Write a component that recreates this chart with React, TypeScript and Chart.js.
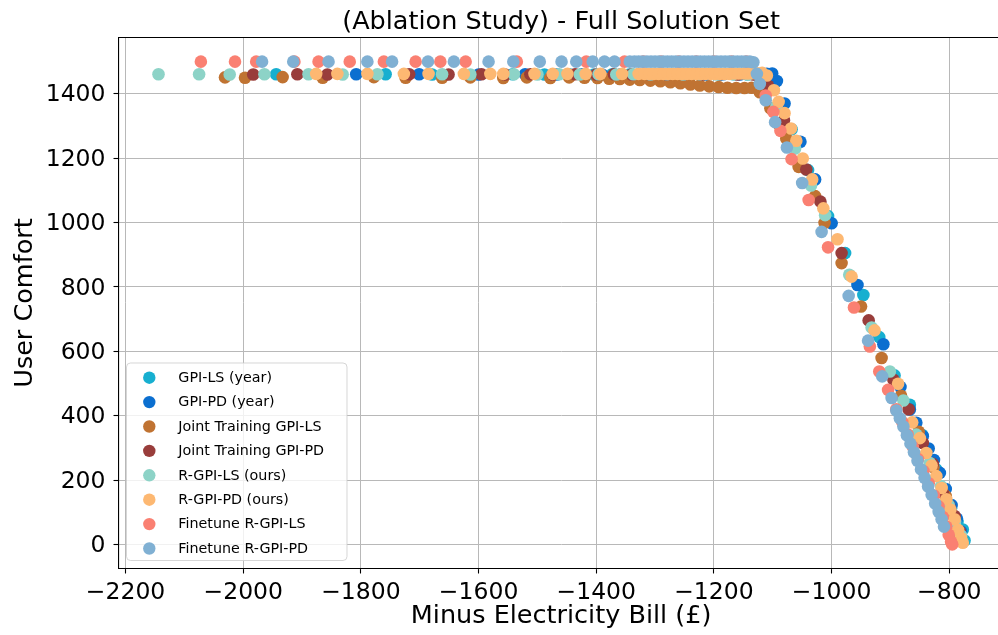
import React, { useEffect, useRef } from 'react';
import { Chart, registerables } from 'chart.js';

Chart.register(...registerables);

type P = [number, number];

const FONT = "'DejaVu Sans', sans-serif";
const chartTitle = '(Ablation Study) - Full Solution Set';
const xLabel = 'Minus Electricity Bill (£)';
const yLabel = 'User Comfort';

const seriesLabels = [
  'GPI-LS (year)',
  'GPI-PD (year)',
  'Joint Training GPI-LS',
  'Joint Training GPI-PD',
  'R-GPI-LS (ours)',
  'R-GPI-PD (ours)',
  'Finetune R-GPI-LS',
  'Finetune R-GPI-PD',
];
const seriesColors = ['#17afd0', '#0b6fd0', '#c07332', '#993d3b', '#8dd3c7', '#fdb872', '#fa8072', '#80b0d3'];

const xTicks = [-2200, -2000, -1800, -1600, -1400, -1200, -1000, -800];
const yTicks = [0, 200, 400, 600, 800, 1000, 1200, 1400];

const gpiLsYear: P[] = [
  [-1944, 1461], [-1758, 1461], [-1679, 1460], [-1542, 1461], [-1488, 1460], [-1446, 1461], [-1404, 1460],
  [-1373, 1461], [-1344, 1460], [-1316, 1461], [-1290, 1460], [-1263, 1461], [-1238, 1460], [-1214, 1461],
  [-1190, 1460], [-1166, 1461], [-1143, 1460], [-1124, 1459],
  [-1101, 1420], [-1068, 1290], [-1040, 1163], [-1006, 1020], [-977, 905], [-946, 775], [-919, 644],
  [-893, 525], [-867, 434], [-846, 340], [-822, 233], [-809, 170], [-797, 112], [-786, 70], [-777, 46], [-774, 12],
];

const gpiPdYear: P[] = [
  [-1808, 1461], [-1701, 1461], [-1600, 1460], [-1521, 1461], [-1467, 1460], [-1425, 1461], [-1390, 1460],
  [-1358, 1461], [-1327, 1460], [-1297, 1461], [-1268, 1460], [-1240, 1461], [-1212, 1460], [-1184, 1461],
  [-1156, 1460], [-1130, 1461], [-1110, 1462], [-1101, 1463],
  [-1093, 1440], [-1080, 1370], [-1053, 1251], [-1028, 1134], [-1000, 998], [-956, 806], [-912, 622],
  [-883, 489], [-867, 419], [-856, 378], [-845, 336], [-835, 298], [-826, 262], [-816, 222], [-806, 172],
  [-796, 122], [-787, 80], [-780, 40],
];

const jointLs: P[] = [
  [-2031, 1451], [-1997, 1450], [-1933, 1452], [-1865, 1450], [-1778, 1452], [-1724, 1450], [-1662, 1450],
  [-1614, 1451], [-1558, 1449], [-1518, 1451], [-1478, 1449], [-1446, 1451], [-1420, 1450], [-1398, 1449],
  [-1378, 1447], [-1360, 1446], [-1343, 1444], [-1326, 1443], [-1308, 1441], [-1291, 1439], [-1274, 1436],
  [-1257, 1433], [-1240, 1429], [-1224, 1426], [-1208, 1423], [-1192, 1421], [-1177, 1419], [-1162, 1418],
  [-1148, 1418], [-1136, 1419],
  [-1122, 1405], [-1104, 1355], [-1090, 1305], [-1077, 1261], [-1056, 1173], [-1028, 1082], [-1012, 999],
  [-983, 874], [-950, 739], [-915, 579], [-882, 462], [-852, 350], [-827, 240], [-806, 150], [-791, 82], [-781, 25],
];

const jointPd: P[] = [
  [-1983, 1460], [-1908, 1461], [-1857, 1460], [-1718, 1461], [-1651, 1460], [-1595, 1461], [-1555, 1460],
  [-1512, 1461], [-1474, 1460], [-1436, 1461], [-1400, 1460], [-1370, 1461], [-1340, 1460], [-1310, 1461],
  [-1280, 1460], [-1250, 1461], [-1220, 1460], [-1190, 1461], [-1160, 1460], [-1133, 1460],
  [-1108, 1425], [-1081, 1318], [-1043, 1165], [-1019, 1065], [-983, 905], [-937, 696], [-895, 512],
  [-869, 420], [-845, 315], [-828, 250], [-811, 160], [-800, 120], [-791, 88], [-782, 40],
];

const rgpiLs: P[] = [
  [-2144, 1461], [-2075, 1461], [-2023, 1460], [-1964, 1461], [-1889, 1461], [-1831, 1460], [-1772, 1461],
  [-1662, 1461], [-1614, 1460], [-1540, 1461], [-1500, 1460], [-1463, 1461], [-1428, 1460], [-1396, 1461],
  [-1366, 1460], [-1337, 1461], [-1308, 1460], [-1280, 1461], [-1252, 1460], [-1224, 1461], [-1196, 1460],
  [-1168, 1461], [-1142, 1460], [-1120, 1455],
  [-1094, 1360], [-1062, 1230], [-1035, 1115], [-1011, 1023], [-970, 838], [-932, 674], [-901, 537],
  [-878, 447], [-856, 341], [-833, 253], [-814, 181], [-801, 122], [-790, 70], [-780, 28],
];

const rgpiPd: P[] = [
  [-1876, 1462], [-1840, 1462], [-1789, 1462], [-1727, 1462], [-1685, 1462], [-1625, 1462], [-1580, 1462],
  [-1558, 1462], [-1505, 1462], [-1474, 1462], [-1449, 1462], [-1418, 1462], [-1393, 1462], [-1356, 1462],
  [-1328, 1462], [-1318, 1462], [-1310, 1462], [-1302, 1462], [-1294, 1462], [-1286, 1462], [-1278, 1462],
  [-1270, 1462], [-1262, 1462], [-1254, 1462], [-1246, 1462], [-1238, 1462], [-1230, 1462], [-1222, 1462],
  [-1214, 1462], [-1206, 1462], [-1198, 1462], [-1190, 1462], [-1182, 1462], [-1174, 1462], [-1166, 1463],
  [-1158, 1463], [-1150, 1463], [-1142, 1463], [-1134, 1464], [-1126, 1464], [-1118, 1465],
  [-1110, 1457], [-1098, 1411], [-1090, 1375], [-1080, 1340], [-1069, 1292], [-1060, 1254], [-1049, 1199],
  [-1033, 1134], [-1014, 1044], [-990, 948], [-966, 832], [-927, 665], [-887, 499], [-863, 379], [-850, 330],
  [-839, 284], [-830, 245], [-822, 212], [-813, 175], [-805, 140], [-798, 108], [-791, 78], [-785, 45],
  [-780, 20], [-777, 5],
];

const finetuneLs: P[] = [
  [-2072, 1500], [-2014, 1500], [-1978, 1500], [-1913, 1500], [-1872, 1500], [-1819, 1500], [-1761, 1500],
  [-1707, 1500], [-1665, 1500], [-1622, 1500], [-1535, 1500], [-1417, 1500], [-1352, 1500], [-1320, 1500],
  [-1290, 1500], [-1260, 1500], [-1230, 1500], [-1200, 1500], [-1170, 1500], [-1145, 1500],
  [-1112, 1395], [-1099, 1344], [-1087, 1285], [-1068, 1197], [-1039, 1070], [-1006, 923], [-962, 736],
  [-935, 615], [-919, 537], [-904, 480], [-890, 420], [-880, 380], [-871, 342], [-862, 303], [-853, 265],
  [-844, 228], [-835, 190], [-826, 152], [-818, 118], [-811, 85], [-805, 55], [-801, 30], [-797, 8], [-795, 0],
];

const finetunePd: P[] = [
  [-1968, 1500], [-1915, 1500], [-1855, 1500], [-1789, 1500], [-1747, 1500], [-1686, 1500], [-1642, 1500],
  [-1583, 1500], [-1541, 1500], [-1496, 1500], [-1459, 1500], [-1434, 1500], [-1406, 1500], [-1386, 1500],
  [-1369, 1500], [-1343, 1500], [-1335, 1500], [-1328, 1500], [-1321, 1500], [-1314, 1500], [-1307, 1500],
  [-1300, 1500], [-1293, 1500], [-1286, 1500], [-1279, 1500], [-1272, 1500], [-1265, 1500], [-1258, 1500],
  [-1251, 1500], [-1244, 1500], [-1237, 1500], [-1230, 1500], [-1223, 1500], [-1216, 1500], [-1209, 1500],
  [-1202, 1500], [-1195, 1500], [-1188, 1500], [-1181, 1500], [-1174, 1500], [-1167, 1500], [-1160, 1500],
  [-1153, 1500], [-1146, 1500], [-1139, 1500], [-1133, 1498],
  [-1127, 1462], [-1122, 1431], [-1112, 1380], [-1096, 1312], [-1076, 1233], [-1050, 1123], [-1017, 971],
  [-971, 772], [-938, 633], [-914, 522], [-898, 455], [-890, 416], [-884, 392], [-878, 366], [-872, 339],
  [-866, 313], [-860, 286], [-854, 260], [-848, 233], [-842, 207], [-836, 180], [-830, 154], [-824, 127],
  [-818, 101], [-813, 78], [-809, 55],
];

const seriesData: P[][] = [gpiLsYear, gpiPdYear, jointLs, jointPd, rgpiLs, rgpiPd, finetuneLs, finetunePd];

const fmt = (v: number | string) => {
  const n = Number(v);
  return n < 0 ? '\u2212' + Math.abs(n) : String(n);
};

const decorPlugin = {
  id: 'decor',
  afterDraw(chart: any) {
    const ctx = chart.ctx as CanvasRenderingContext2D;
    const a = chart.chartArea;
    ctx.save();
    // top spine
    ctx.strokeStyle = '#000';
    ctx.lineWidth = 1.1;
    ctx.beginPath();
    ctx.moveTo(a.left - 0.5, a.top);
    ctx.lineTo(a.right, a.top);
    ctx.stroke();
    // title
    ctx.fillStyle = '#000';
    ctx.font = `25.5px ${FONT}`;
    ctx.textAlign = 'center';
    ctx.textBaseline = 'alphabetic';
    ctx.fillText(chartTitle, (a.left + a.right) / 2, 29.3);
    // legend
    const x0 = 126.5, y0 = 363, w = 220.5, h = 197.5;
    ctx.beginPath();
    if ((ctx as any).roundRect) (ctx as any).roundRect(x0, y0, w, h, 4);
    else ctx.rect(x0, y0, w, h);
    ctx.fillStyle = 'rgba(255,255,255,0.8)';
    ctx.fill();
    ctx.strokeStyle = 'rgba(204,204,204,0.8)';
    ctx.lineWidth = 1;
    ctx.stroke();
    ctx.font = `14.3px ${FONT}`;
    ctx.textAlign = 'left';
    ctx.textBaseline = 'middle';
    seriesLabels.forEach((lab, i) => {
      const cy = 377.7 + i * 24.4;
      ctx.beginPath();
      ctx.arc(149.3, cy, 6.2, 0, Math.PI * 2);
      ctx.fillStyle = seriesColors[i];
      ctx.fill();
      ctx.fillStyle = '#000';
      ctx.fillText(lab, 178.3, cy + 0.5);
    });
    ctx.restore();
  },
};

export default function App() {
  const ref = useRef<HTMLCanvasElement | null>(null);
  useEffect(() => {
    if (!ref.current) return;
    const datasets = seriesData.map((d, i) => ({
      label: seriesLabels[i],
      data: d.map(([x, y]) => ({ x, y })),
      backgroundColor: seriesColors[i],
      borderColor: seriesColors[i],
      borderWidth: 0,
      pointRadius: 6.3,
      pointHoverRadius: 6.3,
      order: -i,
    }));
    const gridCommon = {
      color: '#b8b8b8',
      lineWidth: 1,
      tickColor: '#000',
      tickLength: 5,
      tickWidth: 1.1,
    };
    const chart = new Chart(ref.current, {
      type: 'scatter',
      data: { datasets },
      plugins: [decorPlugin],
      options: {
        animation: false,
        responsive: false,
        devicePixelRatio: 1,
        layout: { padding: { left: 0, right: 2, top: 37.5, bottom: 0 } },
        plugins: { legend: { display: false }, title: { display: false }, tooltip: { enabled: false } },
        scales: {
          x: {
            type: 'linear',
            position: 'bottom',
            min: -2212,
            max: -707.5,
            z: 1,
            afterBuildTicks: (s: any) => { s.ticks = xTicks.map((v) => ({ value: v })); },
            afterFit: (s: any) => { s.height = 66.5; },
            grid: gridCommon,
            border: { display: true, color: '#000', width: 1.1 },
            ticks: { font: { family: FONT, size: 23.5 }, color: '#000', padding: 5, maxRotation: 0, autoSkip: false, callback: fmt },
            title: { display: true, text: xLabel, font: { family: FONT, size: 25.5 }, color: '#000', padding: { top: 0, bottom: 3 } },
          },
          y: {
            type: 'linear',
            position: 'left',
            min: -75,
            max: 1575,
            z: 1,
            afterBuildTicks: (s: any) => { s.ticks = yTicks.map((v) => ({ value: v })); },
            afterFit: (s: any) => { s.width = 118.5; },
            grid: gridCommon,
            border: { display: true, color: '#000', width: 1.1 },
            ticks: { font: { family: FONT, size: 23.5 }, color: '#000', padding: 8, labelOffset: 1.5, autoSkip: false, callback: fmt },
            title: { display: true, text: yLabel, font: { family: FONT, size: 25.5 }, color: '#000', padding: { top: 10, bottom: 0 } },
          },
        },
      } as any,
    });
    return () => chart.destroy();
  }, []);
  return (
    <div style={{ position: 'fixed', left: 0, top: 0, width: 998, height: 635, overflow: 'hidden', background: '#fff' }}>
      <canvas ref={ref} width={1010} height={635} style={{ display: 'block', width: 1010, height: 635 }} />
    </div>
  );
}
